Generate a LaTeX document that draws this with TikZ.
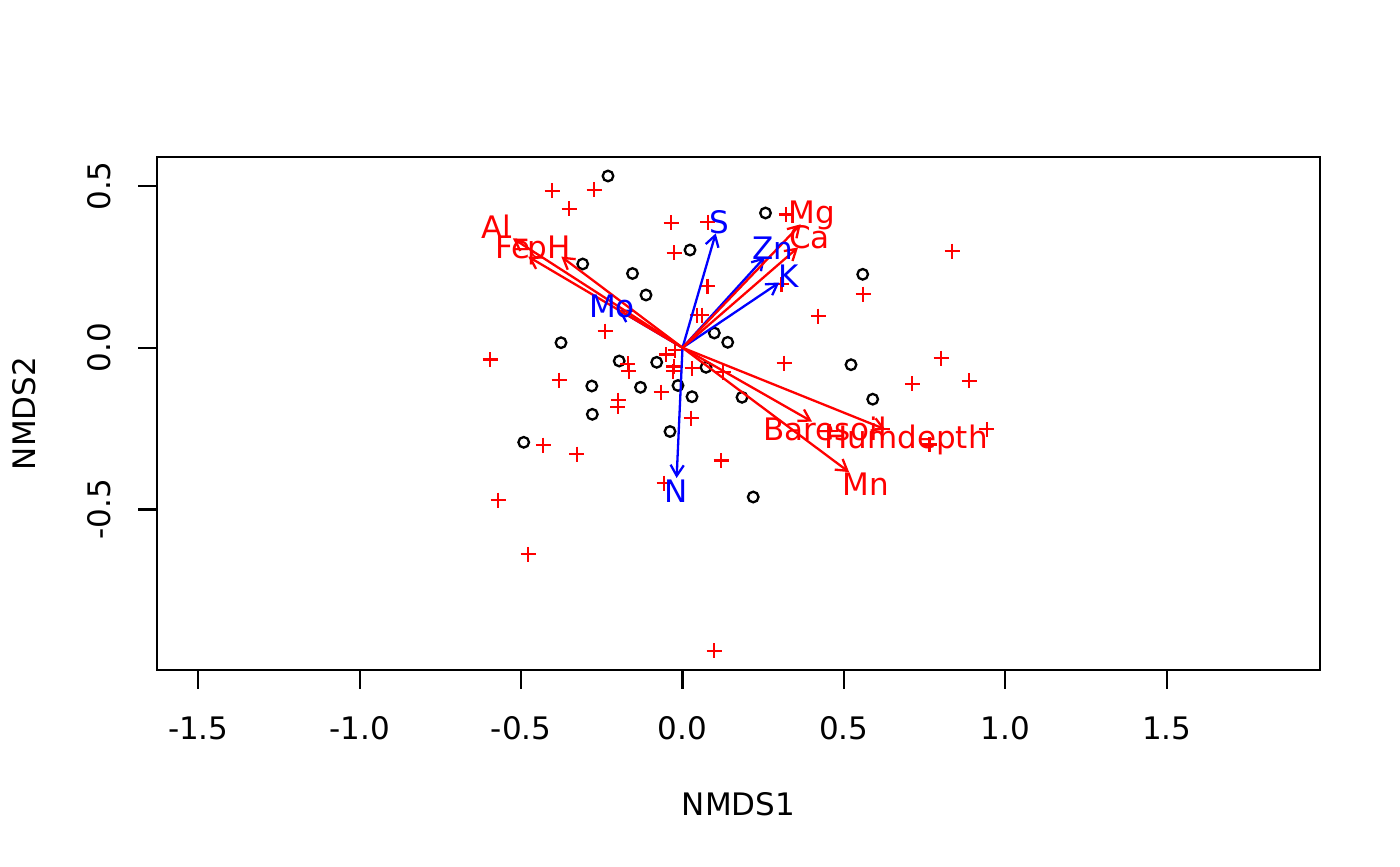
\documentclass[tikz,border=0pt]{standalone}
\usepackage{fontspec}
\setmainfont{DejaVu Sans}
\usetikzlibrary{arrows.meta}
\definecolor{rred}{RGB}{255,0,0}
\definecolor{rblue}{RGB}{0,0,255}
\begin{document}
\begin{tikzpicture}[x=0.5pt,y=-0.5pt,
  txt/.style={font=\fontsize{15.5}{18}\selectfont, inner sep=0pt, anchor=base},
  axisline/.style={draw=black, line width=1.1pt},
  site/.style={draw=black, line width=1.15pt},
  spec/.style={draw=rred, line width=1.15pt},
  envr/.style={draw=rred, line width=1.15pt, -{Straight Barb[length=5.4pt,width=6.6pt,line width=1.15pt]}},
  envb/.style={draw=rblue, line width=1.15pt, -{Straight Barb[length=5.4pt,width=6.6pt,line width=1.15pt]}},
  labr/.style={txt, text=rred},
  labb/.style={txt, text=rblue},
  sitept/.pic={\draw[site] (0,0) circle[radius=5.3];},
  specpt/.pic={\draw[spec] (-7.5,0) -- (7.5,0) (0,-7.5) -- (0,7.5);}
]
\useasboundingbox (0,0) rectangle (1400,866);
\fill[white] (0,0) rectangle (1400,866);

% plot frame
\draw[axisline] (157,157) rectangle (1320,670);

% x axis ticks and labels
\foreach \v/\t [count=\i] in {-1.5/-1.5,-1.0/-1.0,-0.5/-0.5,0.0/0.0,0.5/0.5,1.0/1.0,1.5/1.5}{
  \coordinate (xt\i) at ({682.5+322.8*\v},670);
  \draw[axisline] (xt\i) -- ++(0,19);
  \node[txt] (xl\i) at ({682.5+322.8*\v},739) {\t};
}
% y axis ticks and labels
\foreach \v/\t [count=\i] in {0.5/0.5,0.0/0.0,-0.5/-0.5}{
  \coordinate (yt\i) at (157,{347.7-323.4*\v});
  \draw[axisline] (yt\i) -- ++(-19,0);
  \node[txt, rotate=90] (yl\i) at (110,{347.7-323.4*\v}) {\t};
}
\node[txt] (xlab) at (738.5,815) {NMDS1};
\node[txt, rotate=90] (ylab) at (35,413.5) {NMDS2};

% sites
\foreach \x/\y in {608/176, 765.5/213, 690/250, 582.7/264, 632.5/273.5, 646/295,
  862.7/274.3, 561/342.7, 714.3/333, 727.7/342.3, 619.2/361, 656.7/362.3,
  706/367.3, 591.8/386, 640.5/387.3, 678/385.5, 692/396.7, 742/397.3,
  592.3/414.3, 670/431.5, 523.7/442.3, 851/364.7, 872.7/399.2, 753.2/497}{
  \pic at (\x,\y) {sitept};
}

% species
\foreach \x/\y in {552/191, 594/190, 569/208.7, 671/222.7, 707.7/222.3, 674/252.7,
  786/214.5, 707.5/286, 697/315, 701.7/315, 605/331, 952/251, 863/294,
  818.3/316, 781.5/284, 490/359.5, 675/350, 666.3/354.5, 627.7/363.7,
  628.7/371.3, 673.7/366.5, 673.3/371, 692/368, 723/372, 784/363, 559/380,
  661/392, 618.3/400, 617.7/406.7, 691/418, 912.3/383.7, 941/358.3,
  969/380.7, 986.7/429.3, 882/429, 929.5/444.5, 830/431, 543.3/445,
  576.7/454, 721/460.5, 664/483, 498/500, 528/554.3, 714/650.7}{
  \pic at (\x,\y) {specpt};
}

% fitted vectors
\coordinate (o) at (682.5,347.7);
\coordinate (tAl) at (512.9,238.4);
\coordinate (tFe) at (528.2,256.6);
\coordinate (tpH) at (561.3,256.6);
\coordinate (tMo) at (618.4,309.8);
\coordinate (tS) at (715.7,233.4);
\coordinate (tZn) at (764.8,257.1);
\coordinate (tMg) at (800.7,224.3);
\coordinate (tCa) at (798,247.5);
\coordinate (tK) at (779.3,282.5);
\coordinate (tBare) at (812,421.6);
\coordinate (tHum) at (885.2,429.3);
\coordinate (tMn) at (849.1,472.1);
\coordinate (tN) at (676.6,478);

\draw[envb] (o) -- (tMo);
\draw[envb] (o) -- (tS);
\draw[envb] (o) -- (tZn);
\draw[envb] (o) -- (tK);
\draw[envb] (o) -- (tN);
\draw[envr] (o) -- (tAl);
\draw[envr] (o) -- (tFe);
\draw[envr] (o) -- (tpH);
\draw[envr] (o) -- (tMg);
\draw[envr] (o) -- (tCa);
\draw[envr] (o) -- (tBare);
\draw[envr] (o) -- (tHum);
\draw[envr] (o) -- (tMn);

% labels (baseline = visual centre + 11)
\node[labb] (lMo) at (612,317) {Mo};
\node[labb] (lS) at (719,233) {S};
\node[labb] (lZn) at (773,259) {Zn};
\node[labb] (lK) at (789,287) {K};
\node[labb] (lN) at (676,502) {N};
\node[labr] (lAl) at (496,238.5) {Al};
\node[labr] (lFe) at (512.8,258.5) {Fe};
\node[labr] (lpH) at (549.2,258.5) {pH};
\node[labr] (lMg) at (812,223) {Mg};
\node[labr] (lCa) at (809.5,248.5) {Ca};
\node[labr] (lBare) at (825,440) {Baresoil};
\node[labr] (lHum) at (906,448.5) {Humdepth};
\node[labr] (lMn) at (865.8,495.5) {Mn};
\end{tikzpicture}
\end{document}
